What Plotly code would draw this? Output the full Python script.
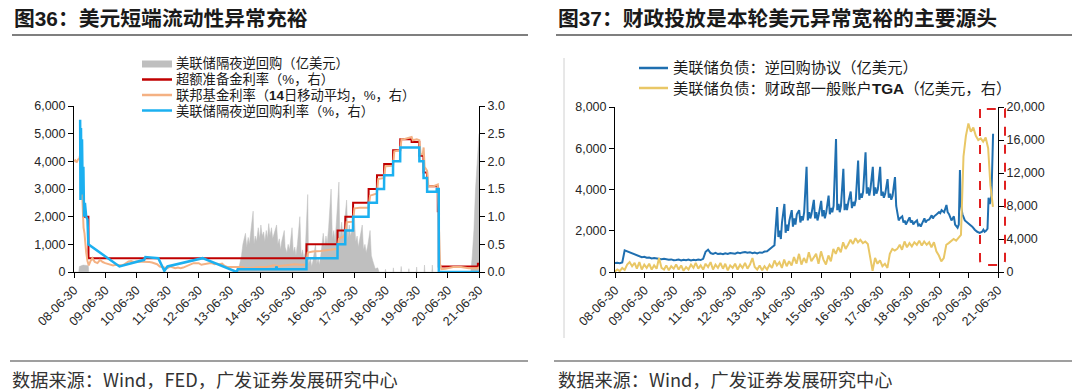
import plotly.graph_objects as go

W, H = 1080, 392

# ---------------- Left chart (图36) data ----------------
tick_dates = ["2008-06-30", "2009-06-30", "2010-06-30", "2011-06-30", "2012-06-30", "2013-06-30",
              "2014-06-30", "2015-06-30", "2016-06-30", "2017-06-30", "2018-06-30", "2019-06-30",
              "2020-06-30", "2021-06-30"]
tick_labels = ["08-06-30", "09-06-30", "10-06-30", "11-06-30", "12-06-30", "13-06-30", "14-06-30",
               "15-06-30", "16-06-30", "17-06-30", "18-06-30", "19-06-30", "20-06-30", "21-06-30"]

# 美联储隔夜逆回购（亿美元）
rrp_dates = ["2008-06-30", "2008-08-25", "2008-09-01", "2008-10-15", "2008-12-15", "2008-12-20",
             "2013-09-20", "2013-10-15", "2013-11-15", "2013-12-01", "2013-12-31",
             "2014-01-15", "2014-02-01", "2014-02-15", "2014-03-01", "2014-03-31", "2014-04-10", "2014-04-25",
             "2014-05-10", "2014-05-30", "2014-06-15", "2014-06-30", "2014-07-15", "2014-08-01", "2014-08-15",
             "2014-09-01", "2014-09-15", "2014-09-30", "2014-10-15", "2014-11-01", "2014-11-15", "2014-12-01",
             "2014-12-31",
             "2015-01-15", "2015-02-01", "2015-02-15", "2015-03-01", "2015-03-31", "2015-04-10", "2015-05-01",
             "2015-05-15", "2015-06-01", "2015-06-30", "2015-07-15", "2015-08-01", "2015-08-15", "2015-09-01",
             "2015-09-30", "2015-10-15", "2015-11-01", "2015-11-15", "2015-12-01", "2015-12-31",
             "2016-01-10", "2016-02-01", "2016-02-15", "2016-03-01", "2016-03-31", "2016-04-15", "2016-05-01",
             "2016-05-15", "2016-06-01", "2016-06-30", "2016-07-15", "2016-08-01", "2016-08-15", "2016-09-01",
             "2016-09-30", "2016-10-15", "2016-11-01", "2016-11-15", "2016-12-01", "2016-12-31",
             "2017-01-10", "2017-02-01", "2017-02-15", "2017-03-01", "2017-03-31", "2017-04-15", "2017-05-01",
             "2017-05-15", "2017-06-01", "2017-06-30", "2017-07-15", "2017-08-01", "2017-08-15", "2017-09-01",
             "2017-09-30", "2017-10-15", "2017-11-01", "2017-11-15", "2017-12-01", "2017-12-31",
             "2018-01-15", "2018-02-01", "2018-02-15", "2018-03-01", "2018-03-31", "2018-04-15", "2018-06-25",
             "2018-06-30", "2018-07-05", "2018-09-25", "2018-09-30", "2018-10-05", "2018-12-25", "2018-12-31",
             "2019-01-05", "2019-03-25", "2019-03-31", "2019-04-05", "2019-06-25", "2019-06-30", "2019-07-05",
             "2019-09-25", "2019-09-30", "2019-10-05", "2019-12-25", "2019-12-31", "2020-01-05",
             "2021-03-25", "2021-04-10", "2021-05-01", "2021-05-20", "2021-06-10", "2021-06-30"]
rrp_vals = [0, 0, 200, 250, 230, 0,
            0, 150, 600, 1000, 1400,
            900, 1250, 1000, 1400, 2200, 1000, 1300,
            1100, 1600, 1200, 1700, 1300, 1450, 1100,
            1500, 1200, 1750, 1300, 1600, 1200, 1400,
            1700,
            1000, 1200, 800, 1100, 1500, 900, 700,
            1000, 800, 1600, 700, 900, 600, 1000,
            2000, 600, 800, 500, 700, 2800,
            300, 500, 200, 400, 1000, 300, 500,
            250, 600, 1400, 900, 1300, 1000, 1600,
            3000, 1200, 1500, 1100, 1800, 3250,
            1200, 1800, 1300, 1600, 2600, 1200, 1700,
            1300, 1500, 2000, 1100, 1300, 900, 1200,
            1700, 800, 1000, 700, 900, 1500,
            600, 400, 200, 120, 150, 0, 0,
            100, 0, 0, 150, 0, 0, 200,
            0, 0, 120, 0, 0, 180, 0,
            0, 250, 0, 0, 250, 0,
            0, 500, 1500, 3000, 4000, 5000]

# 超额准备金利率（%）
ioer_dates = ["2008-10-09", "2008-12-16", "2008-12-17", "2015-12-16", "2015-12-17", "2016-12-14",
              "2016-12-15", "2017-03-15", "2017-03-16", "2017-06-14", "2017-06-15", "2017-12-13",
              "2017-12-14", "2018-03-21", "2018-03-22", "2018-06-13", "2018-06-14", "2018-09-26",
              "2018-09-27", "2018-12-19", "2018-12-20", "2019-05-01", "2019-05-02", "2019-07-31",
              "2019-08-01", "2019-09-18", "2019-09-19", "2019-10-30", "2019-10-31", "2020-03-03",
              "2020-03-04", "2020-03-15", "2020-03-16", "2021-06-16", "2021-06-17", "2021-06-30"]
ioer_vals = [1.00, 1.00, 0.25, 0.25, 0.50, 0.50,
             0.75, 0.75, 1.00, 1.00, 1.25, 1.25,
             1.50, 1.50, 1.75, 1.75, 1.95, 1.95,
             2.20, 2.20, 2.40, 2.40, 2.35, 2.35,
             2.10, 2.10, 1.80, 1.80, 1.55, 1.55,
             1.10, 1.10, 0.10, 0.10, 0.15, 0.15]

# 联邦基金利率（14日移动平均，%）
ffr_dates = ["2008-06-30", "2008-07-15", "2008-08-01", "2008-08-15", "2008-09-01", "2008-09-10",
             "2008-09-20", "2008-09-30", "2008-10-10", "2008-10-20", "2008-10-31", "2008-11-10",
             "2008-11-20", "2008-12-05", "2008-12-20",
             "2009-01-10", "2009-02-01", "2009-03-01", "2009-04-01", "2009-05-01", "2009-06-01",
             "2009-07-01", "2009-08-01", "2009-09-01", "2009-10-01", "2009-11-01", "2009-12-01",
             "2010-01-01", "2010-02-01", "2010-03-01", "2010-04-01", "2010-05-01", "2010-06-01",
             "2010-07-01", "2010-08-01", "2010-09-01", "2010-10-01", "2010-11-01", "2010-12-01",
             "2011-01-01", "2011-02-01", "2011-03-01", "2011-04-01", "2011-05-01", "2011-06-01",
             "2011-07-01", "2011-08-01", "2011-09-01", "2011-10-01", "2011-11-01", "2011-12-01",
             "2012-01-01", "2012-02-01", "2012-03-01", "2012-04-01", "2012-05-01", "2012-06-01",
             "2012-07-01", "2012-08-01", "2012-09-01", "2012-10-01", "2012-11-01", "2012-12-01",
             "2013-01-01", "2013-02-01", "2013-03-01", "2013-04-01", "2013-05-01", "2013-06-01",
             "2013-07-01", "2013-08-01", "2013-09-01", "2013-10-01", "2013-11-01", "2013-12-01",
             "2014-01-01", "2014-03-01", "2014-05-01", "2014-07-01", "2014-09-01", "2014-12-01",
             "2015-02-01", "2015-04-01", "2015-06-01", "2015-08-01", "2015-10-01", "2015-12-10",
             "2015-12-31", "2016-03-01", "2016-06-01", "2016-09-01", "2016-12-15", "2016-12-31",
             "2017-03-16", "2017-03-31", "2017-06-15", "2017-06-30", "2017-09-01", "2017-12-14",
             "2017-12-31", "2018-03-22", "2018-04-05", "2018-06-14", "2018-06-28", "2018-09-27",
             "2018-10-11", "2018-12-20", "2019-01-03", "2019-02-01", "2019-03-01", "2019-04-01",
             "2019-05-02", "2019-05-16", "2019-07-01", "2019-08-01", "2019-08-15", "2019-09-10",
             "2019-09-20", "2019-10-01", "2019-10-31", "2019-11-14", "2020-01-15", "2020-03-04",
             "2020-03-10", "2020-03-18", "2020-03-30", "2020-04-15", "2020-06-01", "2020-09-01",
             "2020-12-01", "2021-03-01", "2021-06-17", "2021-06-30"]
ffr_vals = [2.00, 2.02, 1.98, 2.03, 2.05, 2.12,
            1.95, 1.55, 1.20, 0.80, 0.70, 0.45,
            0.35, 0.20, 0.12,
            0.20, 0.25, 0.18, 0.16, 0.22, 0.18,
            0.16, 0.15, 0.14, 0.12, 0.13, 0.12,
            0.12, 0.13, 0.16, 0.19, 0.20, 0.18,
            0.19, 0.19, 0.19, 0.19, 0.19, 0.18,
            0.17, 0.15, 0.14, 0.10, 0.09, 0.09,
            0.07, 0.10, 0.08, 0.07, 0.08, 0.07,
            0.08, 0.10, 0.13, 0.14, 0.16, 0.16,
            0.16, 0.13, 0.14, 0.16, 0.16, 0.16,
            0.14, 0.15, 0.14, 0.15, 0.11, 0.09,
            0.09, 0.08, 0.08, 0.09, 0.08, 0.09,
            0.07, 0.08, 0.09, 0.09, 0.09, 0.12,
            0.11, 0.12, 0.13, 0.14, 0.13, 0.13,
            0.35, 0.37, 0.38, 0.40, 0.42, 0.60,
            0.66, 0.90, 0.91, 1.15, 1.16, 1.16,
            1.38, 1.42, 1.68, 1.70, 1.91, 1.92,
            2.18, 2.20, 2.40, 2.40, 2.41, 2.43,
            2.44, 2.38, 2.40, 2.38, 2.13, 2.13,
            2.25, 1.90, 1.83, 1.55, 1.55, 1.58,
            1.35, 0.80, 0.15, 0.05, 0.06, 0.09,
            0.09, 0.07, 0.07, 0.09]

# 美联储隔夜逆回购利率（%）
onrrp_rate_dates = ["2008-09-10", "2008-09-14", "2008-09-20", "2008-09-26", "2008-10-02", "2008-10-10",
                    "2008-10-18", "2008-10-26", "2008-11-05", "2008-11-20", "2008-12-05", "2008-12-15",
                    "2009-12-15", "2010-10-01", "2010-10-15", "2011-03-15", "2011-05-25", "2011-07-01",
                    "2012-08-15", "2013-09-20", "2013-10-01", "2014-12-20", "2014-12-31", "2015-01-05",
                    "2015-12-16", "2015-12-17", "2016-12-14", "2016-12-15", "2017-03-15", "2017-03-16",
                    "2017-06-14", "2017-06-15", "2017-12-13", "2017-12-14", "2018-03-21", "2018-03-22",
                    "2018-06-13", "2018-06-14", "2018-09-26", "2018-09-27", "2018-12-19", "2018-12-20",
                    "2019-07-31", "2019-08-01", "2019-09-18", "2019-09-19", "2019-10-30", "2019-10-31",
                    "2020-02-20", "2020-02-21", "2020-03-15", "2020-03-16", "2021-06-30"]
onrrp_rate_vals = [2.75, 1.30, 2.60, 1.50, 2.40, 1.40,
                   1.90, 1.00, 1.25, 1.00, 0.95, 0.50,
                   0.10, 0.22, 0.27, 0.25, 0.02, 0.10,
                   0.25, 0.00, 0.05, 0.05, 0.10, 0.05,
                   0.05, 0.25, 0.25, 0.50, 0.50, 0.75,
                   0.75, 1.00, 1.00, 1.25, 1.25, 1.50,
                   1.50, 1.75, 1.75, 2.00, 2.00, 2.25,
                   2.25, 2.00, 2.00, 1.70, 1.70, 1.45,
                   1.45, 1.50, 1.50, 0.00, 0.00]

# ---------------- Right chart (图37) data ----------------
# 美联储负债：逆回购协议（亿美元） – monthly 2008-06..2013-11, then finer
repo_vals_monthly = [430, 450, 430, 460, 1050, 1000, 950,
                     920, 860, 800, 760, 720, 740, 690, 700, 660, 680, 650, 640,
                     620, 640, 600, 590, 610, 570, 580, 600, 560, 590, 570, 600,
                     560, 590, 570, 600, 580, 640, 980, 1080, 920, 880, 930, 870,
                     890, 860, 910, 880, 920, 900, 890, 940, 910, 950, 970, 930,
                     960, 910, 940, 900, 950, 930, 990, 1000, 1120, 1200, 1300]
repo_dates_late = ["2013-12-31",
                   "2014-01-15", "2014-02-01", "2014-02-15", "2014-03-01", "2014-03-31", "2014-04-15", "2014-05-01",
                   "2014-05-15", "2014-06-01", "2014-06-30", "2014-07-15", "2014-08-01", "2014-08-15", "2014-09-01",
                   "2014-09-30", "2014-10-15", "2014-11-01", "2014-11-15", "2014-12-01", "2014-12-31",
                   "2015-01-15", "2015-02-01", "2015-02-15", "2015-03-01", "2015-03-31", "2015-04-15", "2015-05-01",
                   "2015-05-15", "2015-06-01", "2015-06-30", "2015-07-15", "2015-08-01", "2015-08-15", "2015-09-01",
                   "2015-09-30", "2015-10-15", "2015-11-01", "2015-11-15", "2015-12-01", "2015-12-31",
                   "2016-01-15", "2016-02-01", "2016-02-15", "2016-03-01", "2016-03-31", "2016-04-15", "2016-05-01",
                   "2016-05-15", "2016-06-01", "2016-06-30", "2016-07-15", "2016-08-01", "2016-08-15", "2016-09-01",
                   "2016-09-30", "2016-10-15", "2016-11-01", "2016-11-15", "2016-12-01", "2016-12-31",
                   "2017-01-15", "2017-02-01", "2017-02-15", "2017-03-01", "2017-03-31", "2017-04-15", "2017-05-01",
                   "2017-05-15", "2017-06-01", "2017-06-30", "2017-07-15", "2017-08-01", "2017-08-15", "2017-09-01",
                   "2017-09-30", "2017-10-15", "2017-11-01", "2017-11-15", "2017-12-01", "2017-12-31",
                   "2018-01-15", "2018-02-01", "2018-02-15", "2018-03-01", "2018-03-31", "2018-04-15", "2018-05-01",
                   "2018-05-15", "2018-06-01", "2018-06-30", "2018-07-15", "2018-08-01", "2018-08-15", "2018-09-01",
                   "2018-09-30", "2018-10-15", "2018-11-01", "2018-11-15", "2018-12-01", "2018-12-31",
                   "2019-01-15", "2019-02-01", "2019-03-01", "2019-03-31", "2019-04-15", "2019-05-01", "2019-06-01",
                   "2019-06-30", "2019-07-15", "2019-08-01", "2019-09-01", "2019-09-30", "2019-10-15", "2019-11-01",
                   "2019-12-01", "2019-12-31", "2020-01-15", "2020-02-01", "2020-02-15", "2020-03-01", "2020-03-15",
                   "2020-03-25", "2020-04-15", "2020-05-15", "2020-06-15", "2020-07-15", "2020-08-15", "2020-09-15",
                   "2020-10-15", "2020-11-15", "2020-12-15", "2020-12-31", "2021-01-15", "2021-02-01", "2021-02-20",
                   "2021-03-05", "2021-03-20", "2021-04-10", "2021-04-20", "2021-04-30"]
repo_vals_late = [3150,
                  1700, 2000, 1600, 2400, 3300, 1900, 2300,
                  2000, 2500, 3000, 2200, 2600, 2300, 2800,
                  3000, 2400, 2700, 2500, 2900, 5100,
                  2500, 2900, 2600, 2800, 3500, 2600, 2900,
                  2500, 2800, 3450, 2700, 3000, 2600, 2900,
                  3700, 2800, 3100, 2900, 3200, 6450,
                  3000, 3300, 2900, 3200, 5000, 3000, 3300,
                  3000, 3400, 3900, 3100, 3400, 3200, 3500,
                  5400, 3500, 3800, 3600, 3900, 5800,
                  3800, 4100, 3700, 4000, 5100, 3700, 4100,
                  3800, 4000, 5100, 3700, 3900, 3600, 3800,
                  4500, 3600, 3800, 3500, 3700, 4600,
                  3200, 2700, 2500, 2600, 2700, 2400, 2500,
                  2300, 2450, 2650, 2400, 2500, 2300, 2400,
                  2500, 2250, 2300, 2200, 2350, 2600,
                  2400, 2500, 2550, 2750, 2600, 2700, 2800,
                  2900, 2850, 3000, 2900, 3250, 2900, 2800,
                  2500, 2700, 2300, 2200, 2150, 2300, 4950,
                  3300, 2800, 2500, 2400, 2300, 2200, 2050,
                  1950, 1900, 1950, 2050, 1950, 2000, 2100,
                  3600, 3300, 3700, 4800, 6700]

# 美联储负债：财政部一般账户TGA（亿美元） – monthly 2008-06..2021-04
tga_vals = [50, 300, 100, 500, 250, 900, 1200,
            700, 1100, 400, 1200, 300, 900, 500, 1000, 300, 800, 400, 1700,
            500, 300, 800, 200, 700, 400, 900, 300, 800, 150, 600, 300,
            900, 500, 1100, 400, 800, 300, 1000, 600, 1200, 300, 900, 500,
            1100, 400, 1000, 200, 800, 500, 1000, 300, 900, 500, 1100, 400,
            900, 1700, 600, 300, 800, 200, 700, 300, 900, 500, 1400, 800,
            1200, 500, 1500, 700, 1300, 800, 1800, 1000, 2200, 900, 1700, 1100,
            2400, 1300, 1800, 2200, 1000, 2500, 1500, 900, 2000, 1300, 2800, 2200,
            3000, 2400, 3600, 2800, 3300, 3900, 3400, 4100, 3600, 3900, 3500, 3700,
            3400, 1400, 150, 1700, 1000, 1400, 700, 1000, 500, 2200, 2800, 2600,
            2800, 3300, 2700, 3700, 3000, 3500, 3100, 3600, 3300, 3800, 3200, 3700,
            3300, 3600, 3000, 3600, 2500, 2000, 1300, 1700, 3300, 3500, 3800, 4000,
            3800, 4200, 4500, 14000, 16500, 18000, 17000, 17500, 16500, 16000, 16200, 15800,
            16300, 15000, 10500, 7900]


def month_dates(start_year, start_month, count, day=28):
    out = []
    y, m = start_year, start_month
    for _ in range(count):
        out.append(f"{y}-{m:02d}-{day:02d}")
        m += 1
        if m > 12:
            m = 1
            y += 1
    return out


repo_dates = month_dates(2008, 6, len(repo_vals_monthly)) + repo_dates_late
repo_vals = repo_vals_monthly + repo_vals_late
tga_dates = month_dates(2008, 6, len(tga_vals))


def X(p):
    return p / W


def Y(p):
    return 1 - p / H


LATIN = "Liberation Sans, Arial, Noto Sans CJK SC, sans-serif"
CJK = "Noto Sans CJK SC, sans-serif"
TXT = "#262626"

fig = go.Figure()

# left chart traces
fig.add_trace(go.Scatter(x=rrp_dates, y=rrp_vals, name="美联储隔夜逆回购（亿美元）", xaxis="x", yaxis="y",
                         mode="lines", fill="tozeroy", line=dict(color="#BFBFBF", width=0.5),
                         fillcolor="#BFBFBF", showlegend=False))
fig.add_trace(go.Scatter(x=ioer_dates, y=ioer_vals, name="超额准备金利率（%，右）", xaxis="x", yaxis="y2",
                         mode="lines", line=dict(color="#C00000", width=2), showlegend=False))
fig.add_trace(go.Scatter(x=ffr_dates, y=ffr_vals, name="联邦基金利率（14日移动平均，%，右）", xaxis="x", yaxis="y2",
                         mode="lines", line=dict(color="#F4B183", width=2), showlegend=False))
fig.add_trace(go.Scatter(x=onrrp_rate_dates, y=onrrp_rate_vals, name="美联储隔夜逆回购利率（%，右）", xaxis="x",
                         yaxis="y2", mode="lines", line=dict(color="#1CB0F0", width=2.5), showlegend=False))

# right chart traces
fig.add_trace(go.Scatter(x=repo_dates, y=repo_vals, name="美联储负债：逆回购协议（亿美元）", xaxis="x2", yaxis="y3",
                         mode="lines", line=dict(color="#1F6FB0", width=2), showlegend=False))
fig.add_trace(go.Scatter(x=tga_dates, y=tga_vals, name="美联储负债：财政部一般账户TGA（亿美元，右）", xaxis="x2",
                         yaxis="y4", mode="lines", line=dict(color="#E9C766", width=2), showlegend=False))

tickfont = dict(family=LATIN, size=12.5, color=TXT)
common_x = dict(type="date", tickmode="array", tickvals=tick_dates, ticktext=tick_labels, tickangle=-45,
                ticks="outside", ticklen=5, tickcolor="#000", showline=True, linecolor="#000", linewidth=1,
                showgrid=False, zeroline=False, tickfont=tickfont, range=["2008-06-30", "2021-06-30"],
                automargin=False)
common_y = dict(ticks="outside", ticklen=5, tickcolor="#000", showline=True, linecolor="#000", linewidth=1,
                showgrid=False, zeroline=False, tickfont=tickfont, automargin=False)

fig.update_layout(
    template="none",
    width=W, height=H, margin=dict(l=0, r=0, t=0, b=0, autoexpand=False),
    paper_bgcolor="white", plot_bgcolor="rgba(0,0,0,0)",
    xaxis=dict(domain=[X(74), X(479)], anchor="y", **common_x),
    yaxis=dict(domain=[Y(272), Y(106)], anchor="x", range=[0, 6000], dtick=1000, tickformat=",", **common_y),
    yaxis2=dict(overlaying="y", side="right", anchor="x", range=[0, 3], dtick=0.5, tickformat=".1f", **common_y),
    xaxis2=dict(domain=[X(615), X(998)], anchor="y3", **common_x),
    yaxis3=dict(domain=[Y(272), Y(107)], anchor="x2", range=[0, 8000], dtick=2000, tickformat=",", **common_y),
    yaxis4=dict(overlaying="y3", side="right", anchor="x2", range=[0, 20000], dtick=4000, tickformat=",",
                **common_y),
)

shapes = []
annotations = []

# titles + rules
for x0, x1, title in [(12, 528, "<b>图36：美元短端流动性异常充裕</b>"),
                      (556, 1072, "<b>图37：财政投放是本轮美元异常宽裕的主要源头</b>")]:
    annotations.append(dict(x=X(x0), y=Y(18), xref="paper", yref="paper", xanchor="left", yanchor="middle",
                            text=title, showarrow=False, font=dict(family=LATIN, size=20.8, color="#1a1a1a")))
    shapes.append(dict(type="line", xref="paper", yref="paper", x0=X(x0), x1=X(x1), y0=Y(35), y1=Y(35),
                       line=dict(color="#7F7F7F", width=2)))
    shapes.append(dict(type="line", xref="paper", yref="paper", x0=X(x0 - 2), x1=X(x1), y0=Y(361), y1=Y(361),
                       line=dict(color="#7F7F7F", width=1.5)))

annotations.append(dict(x=X(10), y=Y(379), xref="paper", yref="paper", xanchor="left", yanchor="middle",
                        text="数据来源：Wind，FED，广发证券发展研究中心", showarrow=False,
                        font=dict(family=CJK, size=18.2, color="#333333")))
annotations.append(dict(x=X(556), y=Y(379), xref="paper", yref="paper", xanchor="left", yanchor="middle",
                        text="数据来源：Wind，广发证券发展研究中心", showarrow=False,
                        font=dict(family=CJK, size=18.2, color="#333333")))

# left legend
leg_rows = [64, 79.5, 95, 110.5]
shapes.append(dict(type="rect", xref="paper", yref="paper", x0=X(142), x1=X(172), y0=Y(leg_rows[0] - 3.5),
                   y1=Y(leg_rows[0] + 3.5), fillcolor="#BFBFBF", line=dict(width=0)))
for row, col in zip(leg_rows[1:], ["#C00000", "#F4B183", "#1CB0F0"]):
    shapes.append(dict(type="line", xref="paper", yref="paper", x0=X(142), x1=X(172), y0=Y(row), y1=Y(row),
                       line=dict(color=col, width=2.5)))
left_leg_text = ["美联储隔夜逆回购（亿美元）", "超额准备金利率（%，右）",
                 "联邦基金利率（<b>14</b>日移动平均，%，右）", "美联储隔夜逆回购利率（%，右）"]
for row, t in zip(leg_rows, left_leg_text):
    annotations.append(dict(x=X(174), y=Y(row), xref="paper", yref="paper", xanchor="left", yanchor="middle",
                            text=t, showarrow=False, font=dict(family=LATIN, size=13.3, color="#1a1a1a")))

# right legend
r_rows = [68, 88]
for row, col, t in zip(r_rows, ["#1F6FB0", "#E9C766"],
                       ["美联储负债：逆回购协议（亿美元）", "美联储负债：财政部一般账户<b>TGA</b>（亿美元，右）"]):
    shapes.append(dict(type="line", xref="paper", yref="paper", x0=X(639), x1=X(668), y0=Y(row), y1=Y(row),
                       line=dict(color=col, width=2.5)))
    annotations.append(dict(x=X(671), y=Y(row), xref="paper", yref="paper", xanchor="left", yanchor="middle",
                            text=t, showarrow=False, font=dict(family=LATIN, size=15.3, color="#1a1a1a")))

# frame edge of right panel
shapes.append(dict(type="line", xref="paper", yref="paper", x0=X(564), x1=X(564), y0=Y(58), y1=Y(338),
                   line=dict(color="#D0D0D0", width=1)))

# red dashed highlight box
bx0, bx1, by0, by1, r = 980, 1005, 109, 265, 5
path = (f"M {X(bx0)},{Y(by0)} L {X(bx0)},{Y(by1 - r)} Q {X(bx0)},{Y(by1)} {X(bx0 + r)},{Y(by1)} "
        f"L {X(bx1 - r)},{Y(by1)} Q {X(bx1)},{Y(by1)} {X(bx1)},{Y(by1 - r)} L {X(bx1)},{Y(by0)} Z")
shapes.append(dict(type="path", xref="paper", yref="paper", path=path,
                   line=dict(color="#E02020", width=2, dash="dash")))

fig.update_layout(shapes=shapes, annotations=annotations)

fig.write_html("out.html", config={"displayModeBar": False},
               post_script="document.body.style.margin='0';document.body.style.overflow='hidden';")
